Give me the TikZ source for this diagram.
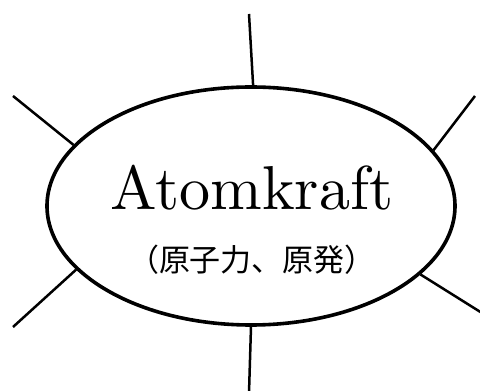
\documentclass[tikz,border=0pt]{standalone}
\usepackage{fontspec}
\newfontfamily\cjkfont{Noto Sans CJK JP}
\newfontfamily\lmten{lmroman10-regular.otf}
\usetikzlibrary{shapes.geometric}
\tikzset{
  ray/.style={draw=black, line width=2.5pt},
  bubble/.style={ellipse, draw=black, line width=3.6pt, inner sep=0pt,
    minimum width=408pt, minimum height=238pt}
}
\begin{document}
\begin{tikzpicture}[x=1pt,y=1pt]
\useasboundingbox (0,0) rectangle (480,391);
\node[bubble] (e) at (251,185) {};
\node[anchor=base, inner sep=0pt] (t) at (252,181) {\lmten\fontsize{62}{70}\selectfont Atomkraft};
\node[anchor=base, inner sep=0pt] (j) at (252,119) {\fontsize{31}{36}\selectfont\cjkfont （原子力、原発）};
\coordinate (top) at (249,377);
\coordinate (ul) at (13,295);
\coordinate (ur) at (475,295);
\coordinate (ll) at (13,64);
\coordinate (lr) at (482,78);
\coordinate (bot) at (249,-2);
\draw[ray] (top) -- (e.89.5);
\draw[ray] (ul) -- (e.161.6);
\draw[ray] (ur) -- (e.17.9);
\draw[ray] (ll) -- (e.200.2);
\draw[ray] (lr) -- (e.338.3);
\draw[ray] (bot) -- (e.270);
\end{tikzpicture}
\end{document}
